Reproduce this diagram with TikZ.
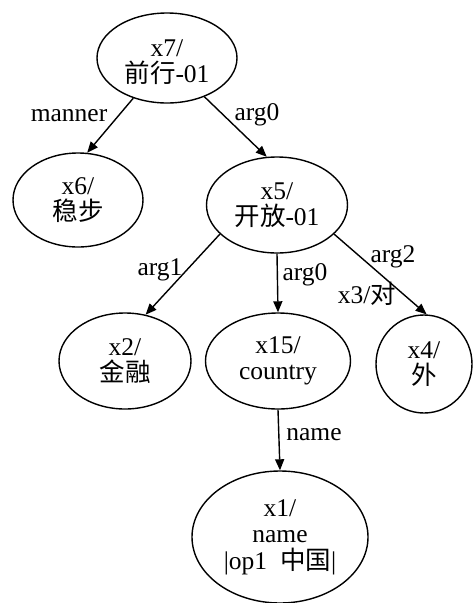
\documentclass[tikz,border=0pt]{standalone}
\usepackage{fontspec}
\setmainfont{Liberation Serif}
\newfontfamily\cjk{Noto Sans CJK SC}
\usetikzlibrary{shapes.geometric,arrows.meta}

\tikzset{
  concept/.style={draw, ellipse, line width=1.4pt, inner sep=0pt, align=center,
    font=\fontsize{25.5}{26.5}\selectfont},
  relation/.style={anchor=base, inner sep=0pt, font=\fontsize{25.5}{26.5}\selectfont},
  link/.style={line width=1.4pt, -{Triangle[length=11pt,width=9pt]}}
}

\begin{document}
\begin{tikzpicture}[x=1pt,y=-1pt]
  \useasboundingbox (0,0) rectangle (473,603);

  % concepts
  \node[concept, minimum width=140pt, minimum height=90pt] (x7) at (167,58) {\rule{0pt}{25pt}x7/\\{\cjk 前行}-01};
  \node[concept, minimum width=130pt, minimum height=94pt] (x6) at (78,200) {x6/\\{\cjk 稳步}};
  \node[concept, minimum width=141pt, minimum height=96pt] (x5) at (277,205) {x5/\\{\cjk 开放}-01};
  \node[concept, minimum width=132pt, minimum height=96pt] (x2) at (125,361) {x2/\\{\cjk 金融}};
  \node[concept, minimum width=145pt, minimum height=96pt] (x15) at (278,361) {x15/\\country};
  \node[concept, minimum width=96pt, minimum height=98pt] (x4) at (424,364) {x4/\\{\cjk 外}};
  \node[concept, minimum width=176pt, minimum height=132pt] (x1) at (280,537) {x1/\\name\\|op1\ \ {\cjk 中国}|};

  % relations
  \draw[link] (x7.230) -- (x6.79);
  \draw[link] (x7.314) -- (x5.102);
  \draw[link] (x5.207) -- (x2.66);
  \draw[link] (x5.south) -- (x15.north);
  \draw[link] (x5.333) -- (x4.87);
  \draw[link] (x15.south) -- (x1.north);

  % relation labels
  \node[relation] (lmanner) at (69,121) {manner};
  \node[relation] (larg0a) at (257,120) {arg0};
  \node[relation] (larg1) at (160,275) {arg1};
  \node[relation] (larg0b) at (305,280) {arg0};
  \node[relation] (larg2) at (393,262) {arg2};
  \node[relation] (lx3) at (367,303) {x3/{\cjk 对}};
  \node[relation] (lname) at (314,440) {name};
\end{tikzpicture}
\end{document}
